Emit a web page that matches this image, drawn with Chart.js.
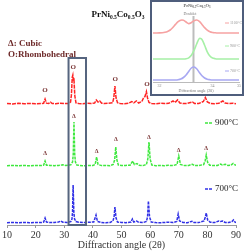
<!DOCTYPE html>
<html><head><meta charset="utf-8">
<script src="https://cdn.jsdelivr.net/npm/chart.js@4.4.0/dist/chart.umd.min.js"></script>
<style>
html,body{margin:0;padding:0;background:#fff;}
#wrap{position:relative;width:244px;height:252px;overflow:hidden;}
#main{position:absolute;left:0;top:0;}
#insetBox{position:absolute;left:150px;top:0;width:94px;height:96px;box-sizing:border-box;border:2px solid #4f5e7c;background:#fff;}
#inset{position:absolute;left:0;top:0;}
</style></head><body>
<div id="wrap"><canvas id="main" width="244" height="252"></canvas>
<div id="insetBox"><canvas id="inset" width="90" height="92"></canvas></div></div>
<script>
// ---------- main pattern data (2θ in degrees, intensity above each trace's baseline) ----------
const seriesLabels = ['1100°C', '900°C', '700°C'];
const stackOffsets = [121, 59, 2];

const angles1100 = [10,12,14,16,18,20,22,22.8,23.3,23.8,24.5,25.2,25.8,27,28.5,30,31.5,32.2,32.5,32.8,33.0,33.2,33.4,33.7,34.1,35,36.5,38,39.5,40.6,41.2,41.8,42.4,43.1,44,45.5,46.9,47.3,47.7,48.1,48.6,49.5,51,52.5,53.6,54.3,55.2,56,57.1,57.7,58.2,58.7,59.1,59.6,60.5,62,63.5,65,66.5,68,68.7,69.6,70.4,71.5,73,74.8,75.5,77,78.6,79.3,80,81,82.5,84,85.4,86.2,87.5,89,90];
const counts1100 = [0.5,0,0.8,0.2,0.6,0.3,0.5,0.8,5,0.8,0.5,1.8,0.5,0.3,0.8,0.4,0.6,2,9,27,29,23,24,8,1.2,0.5,0.3,0.8,0.6,1,4,2,3,0.8,0.4,0.8,1.2,6,18,6,1.3,0.5,0.3,0.8,2.5,1.2,3,1,2.5,6,7.5,12.5,6,1.5,0.6,0.2,0.8,0.4,0.7,3,1.5,4,1,0.4,0.6,2,0.6,0.5,2.5,6.5,2,0.6,0.3,0.8,3,1,0.4,0.8,0.3];

const angles900 = [10,12,14,16,18,20,22,22.8,23.3,23.8,25,26.5,28,29.5,30.5,32.3,32.9,33.15,33.4,33.65,33.9,34.4,35.5,37,38.5,40,40.8,41.3,41.8,43,44.5,46,47.1,47.6,48.0,48.4,48.9,50,51.5,53,53.9,54.5,55.4,56.2,57.5,58.7,59.2,59.6,60,60.6,62,63.5,65,66.5,68,69.4,70.0,70.6,72,73.5,74.8,75.5,77,78.7,79.2,79.6,80.1,80.8,82,83.5,84.6,85.2,86.3,87.2,88.2,89,90];
const counts900 = [0.3,0.6,0.2,0.5,0.2,0.6,0.4,0.8,5,0.8,0.6,0.3,0.5,1.2,0.5,1.2,4,12,44,12,4,1,0.5,0.3,0.6,0.5,1.5,9,1.5,0.4,0.6,0.3,1.5,6,19,6,1,0.4,0.6,0.8,5,1.5,2.5,0.8,0.4,1.5,7,24,7,1,0.3,0.6,0.3,0.7,0.4,1.5,10,1.5,0.4,0.6,1.8,0.5,0.4,1.5,5,11,3.5,0.8,0.4,0.6,2,1,1.8,0.5,0.8,2.5,0.5];

const angles700 = [10,12,14,16,18,20,22,22.8,23.3,23.8,25,26.5,28,28.8,29.5,31,32.3,32.7,32.9,33.1,33.35,33.6,34.1,35,36.5,38,40.3,41.1,41.6,43,44.5,46,47.0,47.4,47.7,48.1,48.6,50,51.5,53.3,53.8,54.3,55.3,56,57.5,58.7,59.1,59.4,59.8,60.4,62,63.5,65,66.5,68,69.3,69.8,70.3,71.5,73,74.6,75.3,77,78.8,79.3,79.6,80.1,81,82.5,84,84.6,85.3,86.2,87.5,88.6,89.1,89.6,90];
const counts700 = [0.3,0.5,0.2,0.6,0.3,0.5,0.4,1,5,1,0.5,0.6,1,2,0.8,0.5,1.5,4,11,38,11,4,1.5,0.8,0.4,0.6,1,8,1.5,0.5,0.3,0.6,2,6,16,5,1,0.5,0.3,1,4,1,2,0.7,0.4,1.5,6,22,6,1,0.4,0.3,0.5,0.8,0.4,1.5,9,2,0.5,0.3,1.8,0.6,0.4,2,6,10,3,0.8,0.4,2,1.5,2,0.6,0.5,1.5,3,1,0.3];

const xTickValues = [10,20,30,40,50,60,70,80,90];

// phase markers
const rhombAngles = [23.3, 33.1, 47.8, 58.9];
const rhombLevels = [135, 158, 146, 141];
const cubicAngles = [23.3, 33.4, 41.3, 48.0, 59.6, 70.0, 79.6];
const cubicLevels = [72, 109, 74, 86, 88, 75, 77];
const zoomWindow = [31.5, 37.6];

// ---------- inset data ----------
const insetAngles = [31.75,31.8,31.9,32.0,32.1,32.2,32.3,32.4,32.5,32.6,32.7,32.8,32.9,33.0,33.1,33.2,33.3,33.4,33.5,33.6,33.7,33.8,33.9,34.0,34.1,34.2,34.3,34.4,34.5,34.6,34.7,34.8,34.9,35.0];
const inset1100 = [0,0,0,0.1,0.3,0.7,1.5,3,5.5,8.6,11.4,12.8,12.7,11,9.4,10.4,12.3,13,11.6,8.6,5.4,2.8,1.2,0.5,0.2,0,0,0,0,0,0,0,0,0];
const inset900  = [0,0,0,0,0,0,0,0,0,0,0,0,0,0.3,1.2,3.8,8.6,15,20.5,19.6,13.8,7.2,3,1,0.3,0,0,0,0,0,0,0,0,0];
const inset700  = [0,0,0,0,0,0,0,0,0,0,0.3,1,2.5,5,8.6,12,13,11.2,7.6,4.2,2,0.8,0.3,0,0,0,0,0,0,0,0,0,0,0];
const insetOffsets = [49, 23, 2];
const insetTicks = [32, 34, 35];
const doubletAngle = 33.28;

const mainColors = ['#ff2424', '#3ee83e', '#3030e6'];
const insetColors = ['#f6a2a2', '#a6f0a6', '#a8a8f2'];

function pts(ang, val, off){ return ang.map((a,i)=>({x:a, y:val[i]+off})); }

const SERIF = '"Liberation Serif", "Times New Roman", serif';

const formulaParts = [['PrNi',0],['0.5',1],['Co',0],['0.5',1],['O',0],['3',1]];
function drawFormula(ctx, x, y, big, small, color){
  ctx.fillStyle = color; ctx.textAlign='left'; ctx.textBaseline='alphabetic';
  let cx = x;
  for(const [t,s] of formulaParts){
    ctx.font = 'bold ' + (s? small: big) + 'px ' + SERIF;
    ctx.fillText(t, cx, y + (s ? big*0.25 : 0));
    cx += ctx.measureText(t).width;
  }
}
function formulaWidth(ctx, big, small){
  let w=0;
  for(const [t,s] of formulaParts){ ctx.font='bold '+(s?small:big)+'px '+SERIF; w+=ctx.measureText(t).width; }
  return w;
}

const mainAnnot = {
  id:'mainAnnot',
  afterDatasetsDraw(chart){
    const ctx = chart.ctx, xs = chart.scales.x, ys = chart.scales.y;
    ctx.save();
    const x0 = xs.getPixelForValue(zoomWindow[0]), x1 = xs.getPixelForValue(zoomWindow[1]);
    const yT = ys.getPixelForValue(167), yB = ys.getPixelForValue(0);
    ctx.strokeStyle = '#56657f'; ctx.lineWidth = 2;
    ctx.strokeRect(x0, yT, x1-x0, yB-yT);
    ctx.fillStyle = '#7a3535'; ctx.textAlign='center'; ctx.textBaseline='middle';
    ctx.font = 'bold 7px ' + SERIF;
    rhombAngles.forEach((a,i)=>ctx.fillText('O', xs.getPixelForValue(a), ys.getPixelForValue(rhombLevels[i])));
    ctx.font = 'bold 6px ' + SERIF;
    cubicAngles.forEach((a,i)=>ctx.fillText('Δ', xs.getPixelForValue(a), ys.getPixelForValue(cubicLevels[i])));
    ctx.textAlign='left'; ctx.textBaseline='alphabetic'; ctx.fillStyle='#6e2a2a';
    ctx.font = 'bold 9px ' + SERIF;
    ctx.fillText('Δ: Cubic', 8, 46);
    ctx.fillText('O:Rhombohedral', 8, 57);
    const w = formulaWidth(ctx, 9, 5.5);
    drawFormula(ctx, 118 - w/2, 17, 9, 5.5, '#111');
    const leg = [[1, 123], [2, 189]];
    ctx.font = '9px ' + SERIF;
    for(const [si, y] of leg){
      ctx.strokeStyle = mainColors[si]; ctx.lineWidth = 1.5; ctx.setLineDash([3,1]);
      ctx.beginPath(); ctx.moveTo(205, y); ctx.lineTo(213, y); ctx.stroke();
      ctx.setLineDash([]);
      ctx.fillStyle = '#222'; ctx.textBaseline='middle';
      ctx.fillText(seriesLabels[si], 215, y);
    }
    ctx.restore();
  }
};

new Chart(document.getElementById('main'), {
  type:'line',
  data:{datasets:[
    {label:seriesLabels[0], data:pts(angles1100,counts1100,stackOffsets[0]), borderColor:mainColors[0], borderDash:[4,1]},
    {label:seriesLabels[1], data:pts(angles900,counts900,stackOffsets[1]), borderColor:mainColors[1], borderDash:[3,1]},
    {label:seriesLabels[2], data:pts(angles700,counts700,stackOffsets[2]), borderColor:mainColors[2], borderDash:[3,1]}
  ]},
  options:{
    responsive:false, animation:false, devicePixelRatio:1,
    layout:{padding:{left:7,right:8,top:25,bottom:0}},
    plugins:{legend:{display:false}, tooltip:{enabled:false}},
    elements:{point:{radius:0}, line:{tension:0, borderWidth:1.5, fill:false}},
    scales:{
      x:{type:'linear', min:10, max:90,
        afterBuildTicks(s){ s.ticks = xTickValues.map(v=>({value:v})); },
        ticks:{font:{family:SERIF,size:10}, color:'#333', padding:1, maxRotation:0, autoSkip:false},
        grid:{display:true, drawOnChartArea:false, drawTicks:true, tickLength:3, color:'#9a9a9a'},
        border:{display:true, color:'#9a9a9a', width:1},
        title:{display:true, text:'Diffraction angle (2θ)', font:{family:SERIF,size:10}, color:'#333', padding:{top:0,bottom:1}},
        afterFit(s){ s.height = 27; }
      },
      y:{display:false, min:0, max:200}
    }
  },
  plugins:[mainAnnot]
});

const insetAnnot = {
  id:'insetAnnot',
  beforeDatasetsDraw(chart){
    const ctx = chart.ctx, xs = chart.scales.x, ys = chart.scales.y;
    ctx.save();
    ctx.strokeStyle = '#bdbdbd'; ctx.lineWidth = 2;
    const x = xs.getPixelForValue(doubletAngle);
    ctx.beginPath(); ctx.moveTo(x, ys.getPixelForValue(66)); ctx.lineTo(x, ys.getPixelForValue(0)); ctx.stroke();
    ctx.restore();
  },
  afterDatasetsDraw(chart){
    const ctx = chart.ctx;
    ctx.save();
    const w = formulaWidth(ctx, 4.5, 3);
    drawFormula(ctx, 45 - w/2, 5, 4.5, 3, '#666');
    ctx.font = '4px ' + SERIF; ctx.fillStyle='#777'; ctx.textAlign='center'; ctx.textBaseline='middle';
    ctx.fillText('Doublet', 38, 12);
    const leg = [[0,21],[1,44],[2,69]];
    ctx.textAlign='left';
    for(const [si,y] of leg){
      ctx.strokeStyle = insetColors[si]; ctx.lineWidth = 1;
      ctx.beginPath(); ctx.moveTo(73,y); ctx.lineTo(77,y); ctx.stroke();
      ctx.fillStyle='#999'; ctx.fillText(seriesLabels[si], 78, y);
    }
    ctx.restore();
  }
};

new Chart(document.getElementById('inset'), {
  type:'line',
  data:{datasets:[
    {label:seriesLabels[0], data:pts(insetAngles,inset1100,insetOffsets[0]), borderColor:insetColors[0]},
    {label:seriesLabels[1], data:pts(insetAngles,inset900,insetOffsets[1]), borderColor:insetColors[1]},
    {label:seriesLabels[2], data:pts(insetAngles,inset700,insetOffsets[2]), borderColor:insetColors[2]}
  ]},
  options:{
    responsive:false, animation:false, devicePixelRatio:1,
    layout:{padding:{left:1,right:1,top:0,bottom:0}},
    plugins:{legend:{display:false}, tooltip:{enabled:false}},
    elements:{point:{radius:0}, line:{tension:0.3, borderWidth:1.6, fill:false}},
    scales:{
      x:{type:'linear', min:31.75, max:35,
        afterBuildTicks(s){ s.ticks = insetTicks.map(v=>({value:v})); },
        ticks:{font:{family:SERIF,size:4}, color:'#888', padding:1, maxRotation:0, autoSkip:false},
        grid:{display:true, drawOnChartArea:false, drawTicks:true, tickLength:1, color:'#bbb'},
        border:{display:true, color:'#bbb', width:1},
        title:{display:true, text:'Diffraction angle (2θ)', font:{family:SERIF,size:4}, color:'#777', padding:{top:0,bottom:1}},
        afterFit(s){ s.height = 12; }
      },
      y:{display:false, min:0, max:80}
    }
  },
  plugins:[insetAnnot]
});
</script>
</body></html>
